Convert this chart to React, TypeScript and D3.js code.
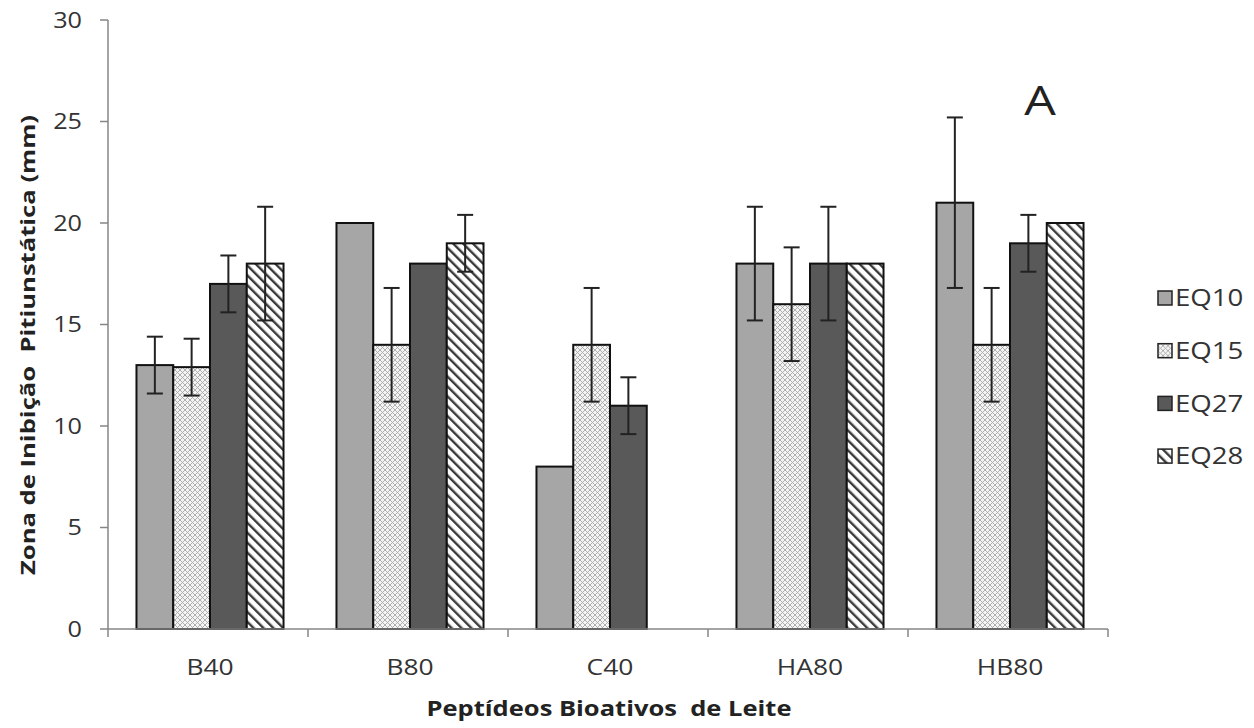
import React from "react";
import * as d3 from "d3";

const categories = ["B40", "B80", "C40", "HA80", "HB80"];
const seriesNames = ["EQ10", "EQ15", "EQ27", "EQ28"];
const eq10 = [13, 20, 8, 18, 21];
const eq15 = [12.9, 14, 14, 16, 14];
const eq27 = [17, 18, 11, 18, 19];
const eq28 = [18, 19, 0, 18, 20];
const err10 = [1.4, 0, 0, 2.8, 4.2];
const err15 = [1.4, 2.8, 2.8, 2.8, 2.8];
const err27 = [1.4, 0, 1.4, 2.8, 1.4];
const err28 = [2.8, 1.4, 0, 0, 0];
const yTicks = [0, 5, 10, 15, 20, 25, 30];

const values = [eq10, eq15, eq27, eq28];
const errors = [err10, err15, err27, err28];
const fills = ["#a6a6a6", "url(#pCross)", "#595959", "url(#pDiag)"];

const font = "'Open Sans', 'Liberation Sans', sans-serif";
const SX = 1.2;

function T(props: { x: number; y: number; size: number; anchor?: string; weight?: string; fill?: string; sx?: number; children: React.ReactNode }) {
  const { x, y, size, anchor = "start", weight = "normal", fill = "#333", sx = SX, children } = props;
  return (
    <g transform={`translate(${x},${y}) scale(${sx},1)`}>
      <text x={0} y={0} dy="0.36em" textAnchor={anchor} fontFamily={font} fontSize={size} fontWeight={weight} fill={fill} style={{ whiteSpace: "pre" }}>
        {children}
      </text>
    </g>
  );
}

export default function App() {
  const W = 1254, H = 728;
  const x0 = 108, x1 = 1108, yTop = 20, yBot = 629;
  const x = d3.scaleBand<string>().domain(categories).range([x0, x1]).paddingInner(0).paddingOuter(0);
  const xs = d3.scaleBand<string>().domain(seriesNames).range([2, x.bandwidth() + 2]).paddingInner(0).paddingOuter(0.72);
  const y = d3.scaleLinear().domain([0, 30]).range([yBot, yTop]);
  const axisColor = "#868686";

  return (
    <svg width={W} height={H} style={{ display: "block", position: "absolute", left: 0, top: 0 }}>
      <defs>
        <pattern id="pCross" width="5" height="5" patternUnits="userSpaceOnUse">
          <rect width="5" height="5" fill="#f4f4f4" />
          <path d="M0,0 L5,5 M5,0 L0,5" stroke="#a8a8a8" strokeWidth="0.9" />
        </pattern>
        <pattern id="pDiag" width="7" height="7" patternUnits="userSpaceOnUse" patternTransform="rotate(-45)">
          <rect width="7" height="7" fill="#ffffff" />
          <rect x="0" y="0" width="2.4" height="7" fill="#3a3a3a" />
        </pattern>
      </defs>
      <rect width={W} height={H} fill="#fff" />

      {/* y axis */}
      <line x1={x0} x2={x0} y1={yTop} y2={yBot} stroke={axisColor} strokeWidth={1.5} />
      {yTicks.map((t) => (
        <g key={t}>
          <line x1={x0 - 8} x2={x0} y1={y(t)} y2={y(t)} stroke={axisColor} strokeWidth={1.5} />
          <T x={x0 - 26} y={y(t)} size={21} anchor="end">{String(t)}</T>
        </g>
      ))}

      {/* bars */}
      {categories.map((c, ci) => (
        <g key={c}>
          {seriesNames.map((s, si) => {
            const v = values[si][ci];
            if (v <= 0) return null;
            const bx = (x(c) as number) + (xs(s) as number);
            const bw = xs.bandwidth();
            return (
              <rect key={s} x={bx} y={y(v)} width={bw} height={yBot - y(v)} fill={fills[si]} stroke="#111" strokeWidth={2} />
            );
          })}
        </g>
      ))}

      {/* x axis */}
      <line x1={x0} x2={x1} y1={yBot} y2={yBot} stroke={axisColor} strokeWidth={1.5} />
      {[...categories.map((c) => x(c) as number), x1].map((t, i) => (
        <line key={i} x1={t} x2={t} y1={yBot} y2={yBot + 8} stroke={axisColor} strokeWidth={1.5} />
      ))}
      {categories.map((c) => (
        <T key={c} x={(x(c) as number) + x.bandwidth() / 2 + 2} y={667} size={22} anchor="middle">{c}</T>
      ))}

      {/* error bars */}
      {categories.map((c, ci) => (
        <g key={c}>
          {seriesNames.map((s, si) => {
            const v = values[si][ci];
            const e = errors[si][ci];
            if (v <= 0 || e <= 0) return null;
            const cx = (x(c) as number) + (xs(s) as number) + xs.bandwidth() / 2;
            return (
              <g key={s} stroke="#222" strokeWidth={2}>
                <line x1={cx} x2={cx} y1={y(v + e)} y2={y(v - e)} />
                <line x1={cx - 8} x2={cx + 8} y1={y(v + e)} y2={y(v + e)} />
                <line x1={cx - 8} x2={cx + 8} y1={y(v - e)} y2={y(v - e)} />
              </g>
            );
          })}
        </g>
      ))}

      {/* panel letter */}
      <T x={1040} y={101} size={40} anchor="middle" fill="#222" sx={1.25}>A</T>

      {/* legend */}
      {seriesNames.map((s, si) => (
        <g key={s} transform={`translate(1158, ${298 + si * 52.7})`}>
          <rect x={0} y={-7} width={14} height={14} fill={fills[si]} stroke="#222" strokeWidth={1.5} />
          <T x={17} y={0} size={23}>{s}</T>
        </g>
      ))}

      {/* axis titles */}
      <text x={609} y={716} textAnchor="middle" fontFamily={font} fontSize={21} fontWeight="bold" fill="#222" textLength={365} lengthAdjust="spacingAndGlyphs" style={{ whiteSpace: "pre" }}>
        Peptídeos Bioativos  de Leite
      </text>
      <text transform="translate(35, 345) rotate(-90)" textAnchor="middle" fontFamily={font} fontSize={20} fontWeight="bold" fill="#222" textLength={460} lengthAdjust="spacingAndGlyphs" style={{ whiteSpace: "pre" }}>
        Zona de Inibição  Pitiunstática (mm)
      </text>
    </svg>
  );
}
